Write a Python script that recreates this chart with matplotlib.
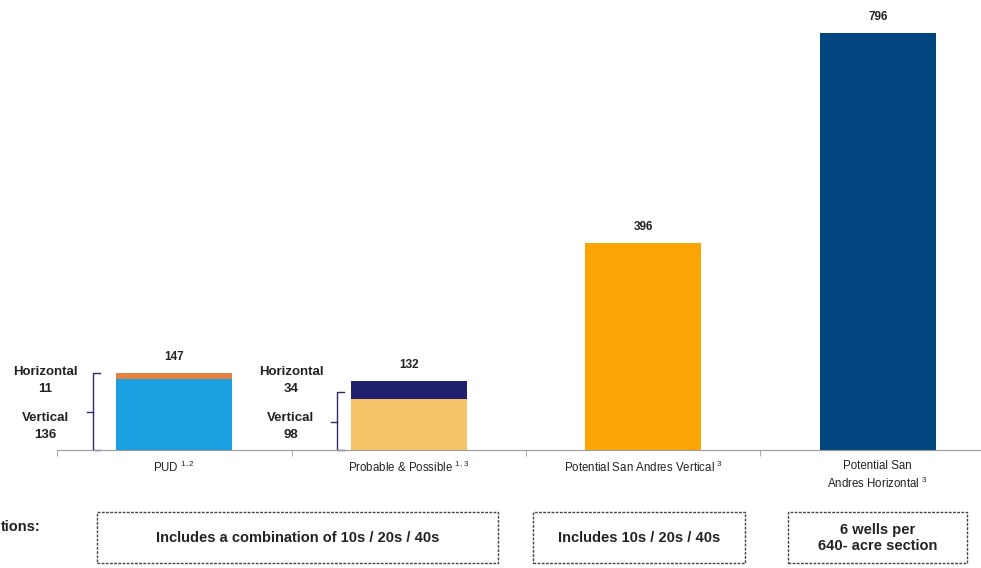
import matplotlib.pyplot as plt
from matplotlib.patches import Rectangle

plt.rcParams['font.family'] = ['Liberation Sans', 'DejaVu Sans']
plt.rcParams['mathtext.fontset'] = 'custom'
plt.rcParams['mathtext.rm'] = 'Liberation Sans'

# --- data ---
categories = ["PUD", "Probable & Possible", "Potential San Andres Vertical",
              "Potential San\nAndres Horizontal"]
footnotes = ["1,2", "1,3", "3", "3"]
vertical = [136, 98, 396, 0]
horizontal = [11, 34, 0, 796]
totals = [147, 132, 396, 796]
vert_colors = ["#1AA0E0", "#F5C468", "#FBA504", "#02467F"]
horiz_colors = ["#E58240", "#20206E", "#FBA504", "#02467F"]
split_labels = [("Horizontal\n11", "Vertical\n136"), ("Horizontal\n34", "Vertical\n98")]
box_texts = ["Includes a combination of 10s / 20s / 40s", "Includes 10s / 20s / 40s",
             "6 wells per\n640- acre section"]

fig = plt.figure(figsize=(9.81, 5.68), dpi=100)
ax = fig.add_axes([57 / 981, 118 / 568, 938 / 981, 445 / 568])

x = list(range(len(categories)))
ax.bar(x, vertical, width=0.495, color=vert_colors)
ax.bar(x, horizontal, width=0.495, bottom=vertical, color=horiz_colors)

for xi, t in zip(x, totals):
    ax.annotate(str(t), (xi, t), xytext=(0, 11.5), textcoords="offset points",
                ha="center", va="center", fontsize=8.5, fontweight="bold", color="#222222")

ax.set_xlim(-0.5, 3.5)
ax.set_ylim(0, 850)
for s in ["top", "right", "left"]:
    ax.spines[s].set_visible(False)
ax.spines["bottom"].set_color("#9a9a9a")
ax.set_yticks([])

labels = []
for c, f in zip(categories, footnotes):
    lines = c.split("\n")
    lines[-1] = lines[-1] + " $^{\\mathregular{" + f + "}}$"
    labels.append("\n".join(lines))
ax.set_xticks(x)
ax.set_xticklabels(labels, fontsize=8.3, color="#222222", linespacing=1.3)
ax.tick_params(axis="x", which="major", length=0, pad=7)
ax.set_xticks([-0.5, 0.5, 1.5, 2.5, 3.5], minor=True)
ax.tick_params(axis="x", which="minor", length=4, color="#9a9a9a", direction="out")

# split annotations with brackets
bracket_color = "#2E2A6E"
ann = [(-0.551, -0.346, 147, 72), (0.498, 0.694, 110, 53)]
for (tx, bx, top, mid), (hl, vl) in zip(ann, split_labels):
    ax.text(tx, 132, hl, ha="center", va="center", fontsize=9.5, fontweight="bold",
            linespacing=1.55, clip_on=False, color="#222222")
    ax.text(tx, 44, vl, ha="center", va="center", fontsize=9.5, fontweight="bold",
            linespacing=1.55, clip_on=False, color="#222222")
    ax.plot([bx + 0.03, bx, bx, bx + 0.03], [top, top, 0, 0], color=bracket_color,
            lw=1.0, clip_on=False)
    ax.plot([bx - 0.025, bx], [mid, mid], color=bracket_color, lw=1.0, clip_on=False)

# assumption boxes
boxes = [(97, 498), (533, 745), (788, 967)]
for (x0, x1), txt in zip(boxes, box_texts):
    fig.patches.append(Rectangle((x0 / 981, 5 / 568), (x1 - x0) / 981, 51 / 568,
                                 transform=fig.transFigure, fill=False,
                                 edgecolor="#444444", linestyle=(0, (2, 1)), lw=1.0))
    fig.text((x0 + x1) / 2 / 981, 30 / 568, txt, ha="center", va="center",
             fontsize=10.5, fontweight="bold", color="#222222", linespacing=1.15)

fig.text(1 / 981, 41 / 568, "tions:", ha="left", va="center",
         fontsize=10.5, fontweight="bold", color="#222222")

fig.savefig("out.png", dpi=100)
